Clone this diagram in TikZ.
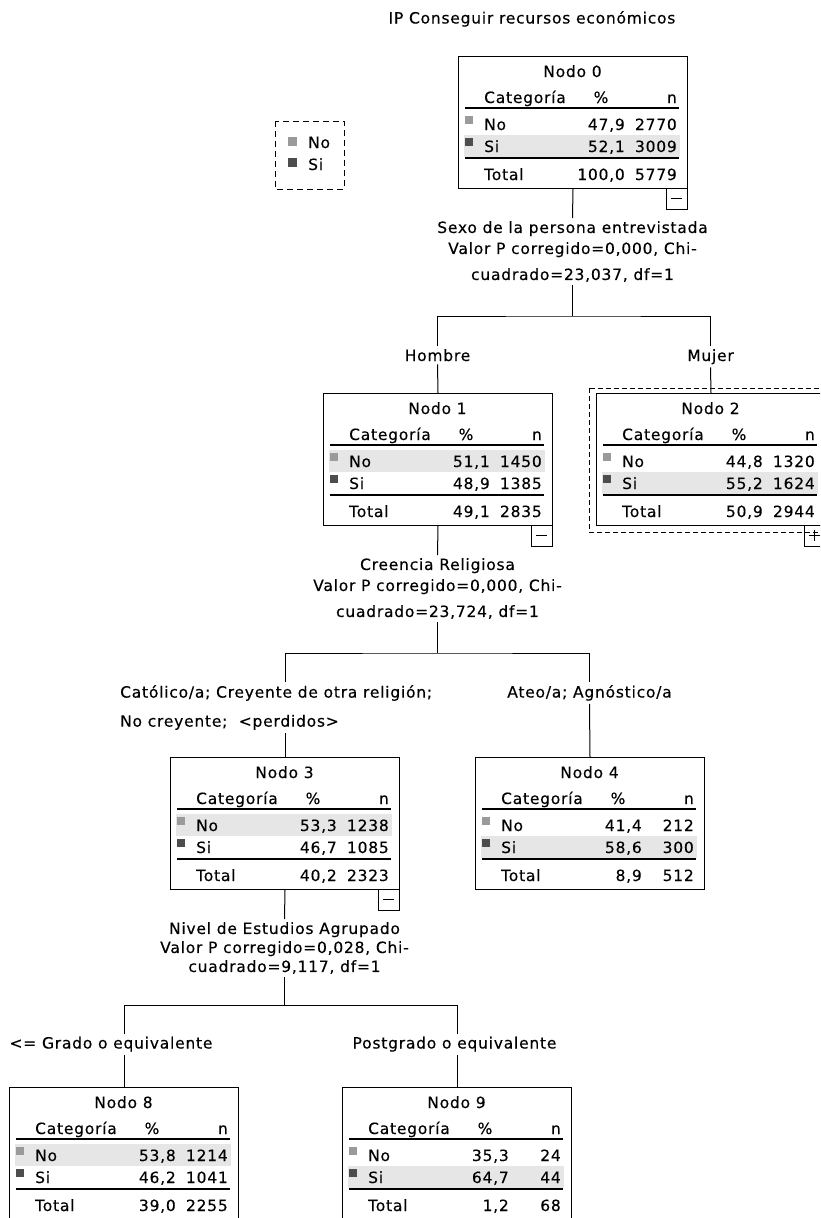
\documentclass[tikz,border=0pt]{standalone}
\usepackage{fontspec}
\setmainfont[LetterSpace=5, FakeBold=0.3]{DejaVu Sans}
\usetikzlibrary{positioning,calc}
\definecolor{gno}{HTML}{9A9A9A}
\definecolor{gsi}{HTML}{4D4D4D}
\definecolor{banda}{HTML}{E6E6E6}
\tikzset{
  tabla/.style = {draw, line width=1pt, minimum width=229pt, minimum height=132pt, inner sep=0pt, anchor=north west},
  txt/.style = {inner sep=0pt, font=\fontsize{15.5}{19}\selectfont},
  rotulo/.style = {inner sep=3pt, align=center, font=\fontsize{15.5}{21}\selectfont},
  conector/.style = {line width=1pt},
  regla/.style = {line width=1.2pt},
  seleccion/.style = {line width=1pt, dash pattern=on 5pt off 3pt},
}
% #1 nombre, #2 numero, #3-#4 No, #5-#6 Si, #7-#8 Total, #9 cuadro (0 nada, 1 menos, 2 mas)
\newcommand{\contenido}[9]{%
  \begin{scope}[shift={(#1.north west)}]
    \ifnum#4>#6\relax
      \fill[banda] (6,57) rectangle (222,79);
    \else
      \fill[banda] (6,79) rectangle (222,101);
    \fi
    \node[txt, anchor=base] (#1-tit) at (114.5,21) {Nodo #2};
    \node[txt, anchor=base west] (#1-cat) at (26,47) {Categoría};
    \node[txt, anchor=base] (#1-pc) at (143,47) {\%};
    \node[txt, anchor=base east] (#1-n) at (219,47) {n};
    \draw[regla] (7,52) -- (221,52);
    \fill[gno] (7,59.5) rectangle (15,67.5);
    \node[txt, anchor=base west] (#1-no) at (26,74) {No};
    \node[txt, anchor=base east] (#1-nop) at (167,74) {#3};
    \node[txt, anchor=base east] (#1-non) at (219,74) {#4};
    \fill[gsi] (7,81.5) rectangle (15,89.5);
    \node[txt, anchor=base west] (#1-si) at (26,96) {Si};
    \node[txt, anchor=base east] (#1-sip) at (167,96) {#5};
    \node[txt, anchor=base east] (#1-sin) at (219,96) {#6};
    \draw[regla] (7,102) -- (221,102);
    \node[txt, anchor=base west] (#1-tot) at (26,124) {Total};
    \node[txt, anchor=base east] (#1-totp) at (167,124) {#7};
    \node[txt, anchor=base east] (#1-totn) at (219,124) {#8};
    \ifnum#9>0\relax
      \draw[conector] (208,132) rectangle (229,153);
      \draw[conector] (213,142.5) -- (224,142.5);
    \fi
    \ifnum#9>1\relax
      \draw[conector] (218.5,137) -- (218.5,148);
    \fi
  \end{scope}}

\begin{document}
\begin{tikzpicture}[x=1pt, y=-1pt]
  \useasboundingbox (0,0) rectangle (820,1218);
  \clip (0,0) rectangle (820,1218);

  \node[txt, anchor=base] (titulo) at (532,23.5) {IP Conseguir recursos económicos};

  % leyenda
  \draw[line width=1pt, dash pattern=on 6pt off 4pt] (275,121) rectangle (344,189);
  \fill[gno] (288,137) rectangle (297,146);
  \fill[gsi] (288,158) rectangle (297,167);
  \node[txt, anchor=base west] (leyno) at (308,148) {No};
  \node[txt, anchor=base west] (leysi) at (308,170) {Si};

  % nodos
  \node[tabla] (n0) at (458,56) {};
  \contenido{n0}{0}{47,9}{2770}{52,1}{3009}{100,0}{5779}{1}
  \node[tabla] (n1) at (323,393) {};
  \contenido{n1}{1}{51,1}{1450}{48,9}{1385}{49,1}{2835}{1}
  \node[tabla] (n2) at (596,393) {};
  \contenido{n2}{2}{44,8}{1320}{55,2}{1624}{50,9}{2944}{2}
  \draw[seleccion] (589,388) rectangle (840,532);
  \node[tabla] (n3) at (170,757) {};
  \contenido{n3}{3}{53,3}{1238}{46,7}{1085}{40,2}{2323}{1}
  \node[tabla] (n4) at (475,757) {};
  \contenido{n4}{4}{41,4}{212}{58,6}{300}{8,9}{512}{0}
  \node[tabla] (n8) at (9,1087) {};
  \contenido{n8}{8}{53,8}{1214}{46,2}{1041}{39,0}{2255}{0}
  \node[tabla] (n9) at (342,1087) {};
  \contenido{n9}{9}{35,3}{24}{64,7}{44}{1,2}{68}{0}

  % division de n0
  \node[rotulo, anchor=north] (s0) at (572.5,218) {Sexo de la persona entrevistada\\Valor P corregido=0,000, Chi-\\[5pt]cuadrado=23,037, df=1};
  \coordinate (j0) at (572.5,316);
  \node[rotulo, anchor=base] (r1) at (437.5,361) {Hombre};
  \node[rotulo, anchor=base] (r2) at (710.5,361) {Mujer};
  \draw[conector] (n0.south) -- (s0.north);
  \draw[conector] (s0.south) -- (j0);
  \draw[conector] (r1.north) |- (j0) -| (r2.north);
  \draw[conector] (r1.south) -- (n1.north);
  \draw[conector] (r2.south) -- (n2.north);

  % division de n1
  \node[rotulo, anchor=north] (s1) at (437.5,555) {Creencia Religiosa\\Valor P corregido=0,000, Chi-\\[5pt]cuadrado=23,724, df=1};
  \coordinate (j1) at (437.5,653);
  \node[rotulo, anchor=north west, align=left] (r3) at (117,682) {Católico/a; Creyente de otra religión;\\[8pt]No creyente; \ <perdidos>};
  \node[rotulo, anchor=base] (r4) at (589.5,697.5) {Ateo/a; Agnóstico/a};
  \draw[conector] (n1.south) -- (s1.north);
  \draw[conector] (s1.south) -- (j1);
  \draw[conector] (n3.north |- r3.north) |- (j1) -| (r4.north);
  \draw[conector] (n3.north |- r3.south) -- (n3.north);
  \draw[conector] (r4.south) -- (n4.north);

  % division de n3
  \node[rotulo, anchor=north] (s3) at (284.5,919) {Nivel de Estudios Agrupado\\[-2pt]Valor P corregido=0,028, Chi-\\[-2pt]cuadrado=9,117, df=1};
  \coordinate (j3) at (284.5,1005);
  \node[rotulo, anchor=base] (r8) at (111,1048.5) {<= Grado o equivalente};
  \node[rotulo, anchor=base] (r9) at (454.5,1048.5) {Postgrado o equivalente};
  \draw[conector] (n3.south) -- (s3.north);
  \draw[conector] (s3.south) -- (j3);
  \draw[conector] (n8.north |- r8.north) |- (j3) -| (n9.north |- r9.north);
  \draw[conector] (n8.north |- r8.south) -- (n8.north);
  \draw[conector] (n9.north |- r9.south) -- (n9.north);
\end{tikzpicture}
\end{document}
